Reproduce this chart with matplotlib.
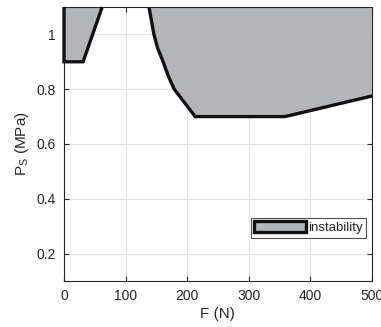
import matplotlib
matplotlib.use("Agg")
import matplotlib.pyplot as plt
from matplotlib.patches import Patch

plt.rcParams['font.family'] = ['Liberation Sans', 'DejaVu Sans']

# left instability region boundary
F_left = [0, 0, 31, 62]
P_left = [1.1, 0.9, 0.9, 1.1]
# right instability region boundary
F_right = [138, 146, 152, 161, 169, 179, 196, 213, 359, 500]
P_right = [1.1, 1.0, 0.95, 0.9, 0.85, 0.8, 0.75, 0.7, 0.7, 0.775]

xticks = [0, 100, 200, 300, 400, 500]
yticks = [0.2, 0.4, 0.6, 0.8, 1.0]
ytick_labels = ['0.2', '0.4', '0.6', '0.8', '1']

fill_c = '#b4b5b9'
txt_c = '#262626'

fig = plt.figure(figsize=(3.81, 3.27), dpi=100)
ax = fig.add_axes([0.168, 0.1407, 0.808, 0.838])

ax.fill(F_left + [0], P_left + [1.1], color=fill_c, lw=0, zorder=2)
ax.fill(F_right + [500, 500], P_right + [1.1, 1.1], color=fill_c, lw=0, zorder=2)
ax.plot(F_left, P_left, color='#111111', lw=2.4, solid_joinstyle='miter',
        solid_capstyle='butt', zorder=5, clip_on=False)
ax.plot(F_right, P_right, color='#111111', lw=2.4, solid_joinstyle='miter', zorder=3, clip_on=True)

ax.set_xlim(0, 500)
ax.set_ylim(0.1, 1.1)
ax.set_xticks(xticks)
ax.set_yticks(yticks)
ax.set_yticklabels(ytick_labels)
ax.grid(True, color='#e3e3e3', lw=0.8, zorder=0)
ax.set_axisbelow(True)
ax.tick_params(direction='in', top=True, right=True, length=3.5, width=0.8,
               colors='#262626', labelsize=10, pad=6)
for s in ax.spines.values():
    s.set_color('#262626')
    s.set_linewidth(0.8)
    s.set_zorder(4)

ax.set_xlabel('F (N)', fontsize=11, color=txt_c, labelpad=3)
ax.set_ylabel('P$_\\mathregular{S}$ (MPa)', fontsize=11, color=txt_c, labelpad=4)

handle = Patch(facecolor=fill_c, edgecolor='#111111', lw=2.4, label='instability')
leg = ax.legend(handles=[handle], loc='lower right', bbox_to_anchor=(0.98, 0.158),
                fontsize=9.5, frameon=True, fancybox=False, edgecolor='#262626',
                borderpad=0.25, handlelength=3.9, handleheight=0.9, handletextpad=0.15,
                borderaxespad=0)
leg.get_frame().set_linewidth(0.8)
for t in leg.get_texts():
    t.set_color(txt_c)

fig.savefig('out.png', dpi=100)
